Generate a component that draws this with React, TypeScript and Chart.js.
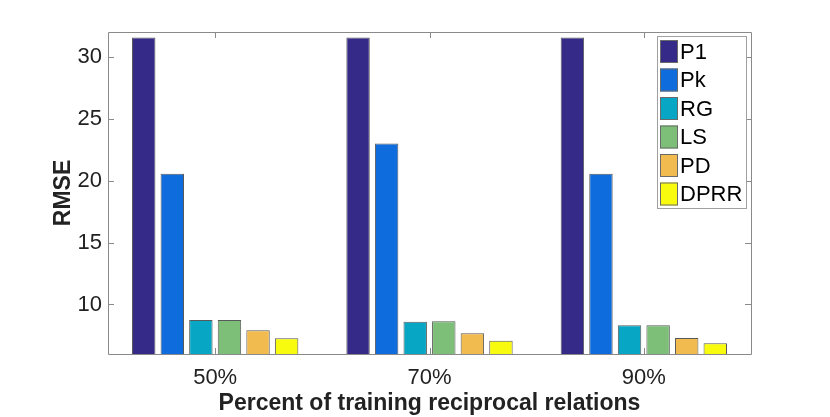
import React, { useEffect, useRef } from "react";
import { Chart, registerables } from "chart.js";

Chart.register(...registerables);

const categories = ["50%", "70%", "90%"];
const seriesNames = ["P1", "Pk", "RG", "LS", "PD", "DPRR"];
const p1 = [31.55, 31.55, 31.55];
const pk = [20.55, 23.0, 20.55];
const rg = [8.74, 8.6, 8.33];
const ls = [8.74, 8.65, 8.33];
const pd = [7.92, 7.68, 7.3];
const dprr = [7.27, 7.06, 6.87];
const yTicks = [10, 15, 20, 25, 30];
const colors = ["#352a87", "#0f6cdd", "#06a6c4", "#7dbf79", "#f2bb50", "#f9fb0e"];

const FONT = "'Liberation Sans', Arial, Helvetica, sans-serif";

const boxPlugin = {
  id: "matlabBox",
  afterDatasetsDraw(chart: any) {
    const { ctx, chartArea } = chart;
    const { left, right, top, bottom } = chartArea;
    const xs = chart.scales.x;
    const ys = chart.scales.y;
    ctx.save();
    ctx.strokeStyle = "#8a8a8a";
    ctx.lineWidth = 1;
    ctx.beginPath();
    ctx.rect(Math.round(left) + 0.5, Math.round(top) + 0.5, Math.round(right - left), Math.round(bottom - top));
    ctx.stroke();
    const tl = 6;
    ctx.beginPath();
    categories.forEach((_, i) => {
      const x = Math.round(xs.getPixelForValue(i)) + 0.5;
      ctx.moveTo(x, bottom);
      ctx.lineTo(x, bottom - tl);
      ctx.moveTo(x, top);
      ctx.lineTo(x, top + tl);
    });
    yTicks.forEach((v) => {
      const y = Math.round(ys.getPixelForValue(v)) + 0.5;
      ctx.moveTo(left, y);
      ctx.lineTo(left + tl, y);
      ctx.moveTo(right, y);
      ctx.lineTo(right - tl, y);
    });
    ctx.stroke();
    ctx.restore();
  },
  afterDraw(chart: any) {
    const { ctx } = chart;
    const bx = 657, by = 36, bw = 89, bh = 172;
    ctx.save();
    ctx.fillStyle = "#ffffff";
    ctx.fillRect(bx, by, bw, bh);
    ctx.strokeStyle = "#a0a0a0";
    ctx.lineWidth = 1;
    ctx.strokeRect(bx + 0.5, by + 0.5, bw, bh);
    ctx.font = `22px ${FONT}`;
    ctx.textBaseline = "middle";
    ctx.textAlign = "left";
    chart.data.datasets.forEach((ds: any, i: number) => {
      const sy = by + 4 + i * 28.5;
      ctx.fillStyle = ds.backgroundColor;
      ctx.fillRect(bx + 3, sy, 18, 23);
      ctx.strokeStyle = "#6a6a6a";
      ctx.strokeRect(bx + 3.5, sy + 0.5, 17, 22);
      ctx.fillStyle = "#000000";
      ctx.fillText(ds.label, bx + 23, sy + 12.5);
    });
    ctx.restore();
  },
};

export default function App() {
  const ref = useRef<HTMLCanvasElement>(null);
  useEffect(() => {
    if (!ref.current) return;
    const series = [p1, pk, rg, ls, pd, dprr];
    const chart = new Chart(ref.current, {
      type: "bar",
      data: {
        labels: categories,
        datasets: series.map((d, i) => ({
          label: seriesNames[i],
          data: d,
          backgroundColor: colors[i],
          borderColor: "rgba(0,0,0,0.65)",
          borderWidth: 1,
          categoryPercentage: 0.8,
          barPercentage: 0.82,
        })),
      },
      options: {
        animation: false,
        responsive: false,
        devicePixelRatio: 1,
        layout: { padding: { left: 0, top: 32, right: 79, bottom: 0 } },
        plugins: { legend: { display: false }, tooltip: { enabled: false } },
        scales: {
          x: {
            offset: true,
            grid: { display: false, drawTicks: false },
            border: { display: false },
            ticks: { color: "#222", font: { family: FONT, size: 22 }, padding: 11 },
            title: {
              display: true,
              text: "Percent of training reciprocal relations",
              color: "#222",
              font: { family: FONT, size: 23, weight: "bold" },
              padding: { top: -2, bottom: 0 },
            },
            afterFit(scale: any) {
              scale.height = 63;
            },
          },
          y: {
            min: 6,
            max: 32,
            grid: { display: false, drawTicks: false },
            border: { display: false },
            ticks: { color: "#222", font: { family: FONT, size: 22 }, padding: 6 },
            afterBuildTicks(scale: any) {
              scale.ticks = yTicks.map((v) => ({ value: v }));
            },
            title: {
              display: true,
              text: "RMSE",
              color: "#222",
              font: { family: FONT, size: 23, weight: "bold" },
              padding: { top: 50, bottom: 0 },
            },
            afterFit(scale: any) {
              scale.width = 108;
            },
          },
        },
      },
      plugins: [boxPlugin],
    });
    return () => chart.destroy();
  }, []);
  return (
    <div style={{ position: "fixed", left: 0, top: 0, width: 830, height: 417, background: "#fff" }}>
      <canvas ref={ref} width={830} height={417} style={{ width: 830, height: 417 }} />
    </div>
  );
}
